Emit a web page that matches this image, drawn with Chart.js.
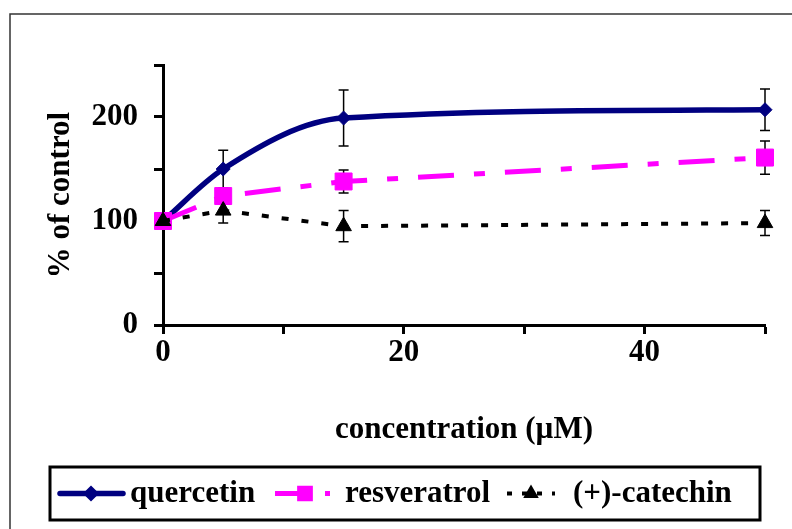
<!DOCTYPE html>
<html>
<head>
<meta charset="utf-8">
<script src="https://cdn.jsdelivr.net/npm/chart.js@4.4.0/dist/chart.umd.min.js"></script>
<style>
  html, body { margin: 0; padding: 0; background: #fff; }
  #wrap { width: 792px; height: 529px; position: relative; }
</style>
</head>
<body>
<div id="wrap"><canvas id="chart" width="792" height="529"></canvas></div>
<script>
// data
const concentration = [0, 5, 15, 50];
const quercetin = [100, 150, 199, 207];
const quercetinErr = [0, 18, 27, 20];
const resveratrol = [100, 124, 138, 161];
const resveratrolErr = [0, 6, 11, 16];
const catechin = [100, 110, 95, 98];
const catechinErr = [0, 12, 15, 12];
const seriesNames = ['quercetin', 'resveratrol', '(+)-catechin'];

const FONT = 'Liberation Serif, Times New Roman, serif';

function toPoints(ys) {
  return concentration.map((c, i) => ({ x: c, y: ys[i] }));
}

// outer frame of the picture
const framePlugin = {
  id: 'frame',
  beforeDraw(chart) {
    const ctx = chart.ctx;
    ctx.save();
    ctx.strokeStyle = '#333';
    ctx.lineWidth = 1.5;
    ctx.strokeRect(10, 14, 900, 700);
    ctx.restore();
  }
};

// error bars, drawn under the lines and markers
const errorBarPlugin = {
  id: 'errorBars',
  beforeDatasetsDraw(chart) {
    const ctx = chart.ctx;
    const xs = chart.scales.x, ys = chart.scales.y;
    ctx.save();
    ctx.strokeStyle = '#000';
    ctx.lineWidth = 1.5;
    chart.data.datasets.forEach(ds => {
      ds.errors.forEach((e, i) => {
        if (!e) return;
        const px = xs.getPixelForValue(concentration[i]);
        const top = ys.getPixelForValue(ds.data[i].y + e);
        const bot = ys.getPixelForValue(ds.data[i].y - e);
        ctx.beginPath();
        ctx.moveTo(px, top); ctx.lineTo(px, bot);
        ctx.moveTo(px - 5, top); ctx.lineTo(px + 5, top);
        ctx.moveTo(px - 5, bot); ctx.lineTo(px + 5, bot);
        ctx.stroke();
      });
    });
    ctx.restore();
  }
};

// boxed legend with line samples like the original
const boxLegendPlugin = {
  id: 'boxLegend',
  afterDraw(chart) {
    const ctx = chart.ctx;
    const box = { l: 50, t: 467, r: 760, b: 520 };
    const cy = (box.t + box.b) / 2;
    ctx.save();
    ctx.strokeStyle = '#000';
    ctx.lineWidth = 3;
    ctx.strokeRect(box.l, box.t, box.r - box.l, box.b - box.t);
    ctx.font = 'bold 31px ' + FONT;
    ctx.textBaseline = 'middle';
    const starts = [60, 275, 507];
    const sampleW = [63, 60, 48];
    const markX = [91, 305, 531];
    const textX = [130, 345, 573];
    chart.data.datasets.forEach((ds, i) => {
      const x0 = starts[i], x1 = x0 + sampleW[i];
      ctx.save();
      ctx.strokeStyle = ds.borderColor;
      ctx.lineWidth = ds.borderWidth;
      ctx.lineCap = ds.legendCap || 'butt';
      ctx.setLineDash(ds.legendDash || []);
      ctx.beginPath();
      ctx.moveTo(x0, cy); ctx.lineTo(x1, cy);
      ctx.stroke();
      ctx.restore();
      ctx.fillStyle = ds.pointBackgroundColor;
      ctx.strokeStyle = ds.pointBorderColor;
      Chart.helpers.drawPoint(ctx, {
        pointStyle: ds.pointStyle,
        radius: ds.legendRadius,
        borderWidth: 1
      }, markX[i], cy);
      ctx.fillStyle = '#000';
      ctx.fillText(ds.label, textX[i], cy);
    });
    ctx.restore();
  }
};

const ctx = document.getElementById('chart').getContext('2d');
new Chart(ctx, {
  type: 'line',
  data: {
    datasets: [
      {
        label: seriesNames[0],
        data: toPoints(quercetin),
        errors: quercetinErr,
        order: 3,
        clip: false,
        borderColor: '#000080',
        borderWidth: 5.5,
        cubicInterpolationMode: 'monotone',
        pointStyle: 'rectRot',
        pointRadius: 7,
        pointBackgroundColor: '#000080',
        pointBorderColor: '#000080',
        pointBorderWidth: 1,
        legendRadius: 6,
        legendCap: 'round'
      },
      {
        label: seriesNames[1],
        data: toPoints(resveratrol),
        errors: resveratrolErr,
        order: 2,
        clip: false,
        borderColor: '#FF00FF',
        borderWidth: 5,
        borderDash: [36, 20, 11, 20],
        legendDash: [24, 26, 5, 20],
        tension: 0,
        pointStyle: 'rect',
        pointRadius: 12,
        pointBackgroundColor: '#FF00FF',
        pointBorderColor: '#FF00FF',
        pointBorderWidth: 1,
        legendRadius: 9
      },
      {
        label: seriesNames[2],
        data: toPoints(catechin),
        errors: catechinErr,
        order: 1,
        clip: false,
        borderColor: '#000',
        borderWidth: 4,
        borderDash: [7, 13],
        legendDash: [5, 10],
        tension: 0,
        pointStyle: 'triangle',
        pointRadius: 9,
        pointBackgroundColor: '#000',
        pointBorderColor: '#000',
        pointBorderWidth: 1,
        legendRadius: 6
      }
    ]
  },
  options: {
    responsive: false,
    animation: false,
    layout: { padding: { left: 0, top: 65, right: 27, bottom: 64 } },
    plugins: {
      legend: { display: false },
      tooltip: { enabled: false }
    },
    scales: {
      x: {
        type: 'linear',
        min: 0,
        max: 50,
        afterFit: s => { s.height = 140; },
        border: { color: '#000', width: 3 },
        grid: { drawOnChartArea: false, tickLength: 9, tickWidth: 3, tickColor: '#000' },
        ticks: {
          stepSize: 10,
          padding: 0,
          maxRotation: 0,
          color: '#000',
          font: { family: FONT, size: 31, weight: 'bold' },
          callback: v => (v % 20 === 0 ? v : '')
        },
        title: {
          display: true,
          text: 'concentration (µM)',
          color: '#000',
          padding: { top: 0, bottom: 16 },
          font: { family: FONT, size: 31, weight: 'bold' }
        }
      },
      y: {
        min: 0,
        max: 250,
        afterFit: s => { s.width = 163; },
        border: { color: '#000', width: 3 },
        grid: { drawOnChartArea: false, tickLength: 9, tickWidth: 3, tickColor: '#000' },
        ticks: {
          stepSize: 50,
          padding: 16,
          color: '#000',
          font: { family: FONT, size: 31, weight: 'bold' },
          callback: v => (v % 100 === 0 ? v : '')
        },
        title: {
          display: true,
          text: '% of control',
          color: '#000',
          padding: { top: 42, bottom: 0 },
          font: { family: FONT, size: 31, weight: 'bold' }
        }
      }
    }
  },
  plugins: [framePlugin, errorBarPlugin, boxLegendPlugin]
});
</script>
</body>
</html>
